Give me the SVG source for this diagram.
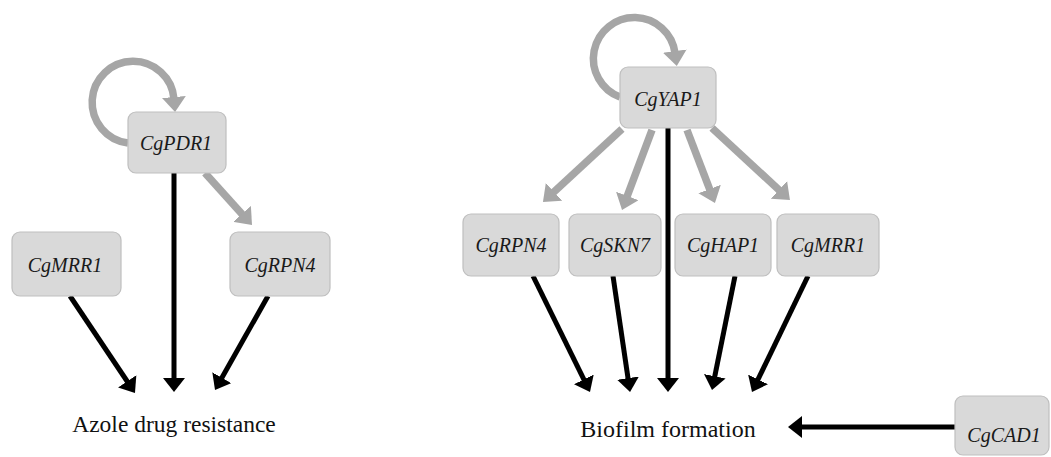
<svg xmlns="http://www.w3.org/2000/svg" width="1051" height="457" viewBox="0 0 1051 457">
  <defs>
    <marker id="headBlack" viewBox="0 -11 14 22" refX="2" refY="0" markerWidth="14" markerHeight="22" markerUnits="userSpaceOnUse" orient="auto">
      <path d="M0,-11 L14,0 L0,11 z" fill="#000"/>
    </marker>
    <marker id="headGray" viewBox="0 -12 15 24" refX="2" refY="0" markerWidth="15" markerHeight="24" markerUnits="userSpaceOnUse" orient="auto">
      <path d="M0,-12 L15,0 L0,12 z" fill="#a6a6a6"/>
    </marker>
  </defs>
  <rect width="1051" height="457" fill="#fff"/>

  <!-- connectors -->
  <g id="connectors" fill="none">
    <!-- regulation by the transcription factors (grey) -->
    <g stroke="#a6a6a6" stroke-width="7.5" marker-end="url(#headGray)">
      <path d="M128,143 A41,41 0 1 1 174,99"/>
      <line x1="205" y1="173" x2="243.3" y2="215.4"/>
      <path d="M620,97 A41,41 0 1 1 675,53"/>
      <line x1="622" y1="129" x2="552.5" y2="193.2"/>
      <line x1="652" y1="130" x2="626.6" y2="197.8"/>
      <line x1="687" y1="130" x2="710.3" y2="190.9"/>
      <line x1="712" y1="128" x2="780.4" y2="191.2"/>
    </g>
    <!-- contribution to the phenotypes (black) -->
    <g stroke="#000" stroke-width="5" marker-end="url(#headBlack)">
      <line x1="174" y1="173" x2="174" y2="380"/>
      <line x1="70" y1="296" x2="128.3" y2="383"/>
      <line x1="268" y1="296" x2="220.9" y2="379.5"/>
      <line x1="668" y1="128" x2="668" y2="380"/>
      <line x1="533" y1="276" x2="584.7" y2="381.2"/>
      <line x1="613" y1="276" x2="628.3" y2="380.1"/>
      <line x1="735" y1="276" x2="714.4" y2="378.2"/>
      <line x1="808" y1="276" x2="757.2" y2="381.2"/>
      <line x1="955" y1="427" x2="800" y2="427"/>
    </g>
  </g>

  <!-- nodes -->
  <g fill="#d9d9d9" stroke="#bfbfbf" stroke-width="1.2">
    <g id="pdr1">
      <rect x="128" y="112" width="98" height="61" rx="8"/>
      <text font-family="Liberation Serif" font-style="italic" font-size="20" fill="#1a1a1a" stroke="none" text-anchor="middle" x="176" y="150">CgPDR1</text>
    </g>
    <g id="mrr1-azole">
      <rect x="12" y="232" width="109" height="64" rx="8"/>
      <text font-family="Liberation Serif" font-style="italic" font-size="20" fill="#1a1a1a" stroke="none" text-anchor="middle" x="65" y="272">CgMRR1</text>
    </g>
    <g id="rpn4-azole">
      <rect x="230" y="232" width="100" height="64" rx="8"/>
      <text font-family="Liberation Serif" font-style="italic" font-size="20" fill="#1a1a1a" stroke="none" text-anchor="middle" x="280" y="272">CgRPN4</text>
    </g>
    <g id="yap1">
      <rect x="620" y="67" width="96" height="61" rx="8"/>
      <text font-family="Liberation Serif" font-style="italic" font-size="20" fill="#1a1a1a" stroke="none" text-anchor="middle" x="668" y="106">CgYAP1</text>
    </g>
    <g id="rpn4-biofilm">
      <rect x="463" y="214" width="96" height="62" rx="8"/>
      <text font-family="Liberation Serif" font-style="italic" font-size="20" fill="#1a1a1a" stroke="none" text-anchor="middle" x="511" y="252">CgRPN4</text>
    </g>
    <g id="skn7">
      <rect x="569" y="214" width="92" height="62" rx="8"/>
      <text font-family="Liberation Serif" font-style="italic" font-size="20" fill="#1a1a1a" stroke="none" text-anchor="middle" x="615" y="252">CgSKN7</text>
    </g>
    <g id="hap1">
      <rect x="675" y="214" width="96" height="62" rx="8"/>
      <text font-family="Liberation Serif" font-style="italic" font-size="20" fill="#1a1a1a" stroke="none" text-anchor="middle" x="723" y="252">CgHAP1</text>
    </g>
    <g id="mrr1-biofilm">
      <rect x="777" y="214" width="102" height="62" rx="8"/>
      <text font-family="Liberation Serif" font-style="italic" font-size="20" fill="#1a1a1a" stroke="none" text-anchor="middle" x="828" y="252">CgMRR1</text>
    </g>
    <g id="cad1">
      <rect x="955" y="396" width="94" height="59" rx="8"/>
      <text font-family="Liberation Serif" font-style="italic" font-size="20" fill="#1a1a1a" stroke="none" text-anchor="middle" x="1004" y="442">CgCAD1</text>
    </g>
  </g>
  <g id="azole">
    <text font-family="Liberation Serif" font-size="23.5" fill="#111" text-anchor="middle" x="174" y="432">Azole drug resistance</text>
  </g>
  <g id="biofilm">
    <text font-family="Liberation Serif" font-size="24" fill="#111" text-anchor="middle" x="668" y="437">Biofilm formation</text>
  </g>
</svg>
